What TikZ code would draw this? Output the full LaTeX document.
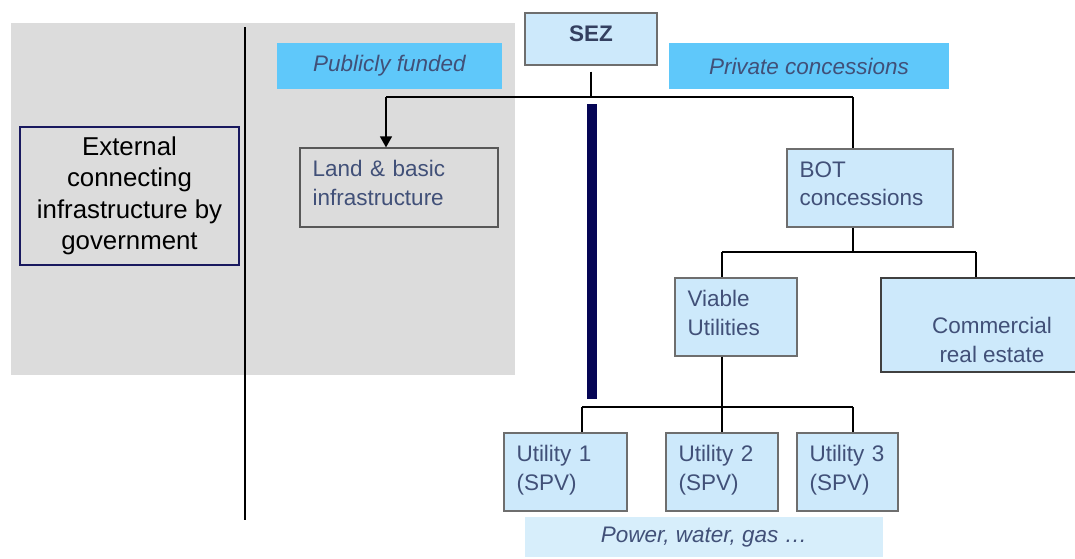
\documentclass[tikz,border=0pt]{standalone}
\usepackage{fontspec}
\setmainfont{Liberation Sans}
\usetikzlibrary{arrows.meta}

\definecolor{bggray}{RGB}{220,220,220}
\definecolor{tagblue}{RGB}{95,200,250}
\definecolor{boxblue}{RGB}{205,233,251}
\definecolor{paleblue}{RGB}{215,238,251}
\definecolor{navybar}{RGB}{5,5,85}
\definecolor{navyedge}{RGB}{25,25,95}
\definecolor{slate}{RGB}{65,80,120}
\definecolor{edgegray}{RGB}{110,110,110}

\newcommand\boxfont{\fontsize{12.8}{16.4}\selectfont}
\newcommand\extfont{\fontsize{14.7}{17.9}\selectfont}

\tikzset{
  unit/.style={rectangle, draw=edgegray, line width=0.7pt, fill=boxblue, text=slate,
    font=\boxfont, align=left, inner xsep=0.25cm, inner ysep=0pt, text depth=0.75cm},
  tag/.style={rectangle, fill=tagblue, text=slate, font=\boxfont\itshape, inner sep=0pt},
  link/.style={draw, line width=0.75pt},
}

\begin{document}
\begin{tikzpicture}[x=0.02cm, y=-0.02cm]
\useasboundingbox (0,0) rectangle (1075,558);
\fill[bggray] (11,23) rectangle (515,375);
\draw[line width=0.6pt] (245,27) -- (245,520);
\fill[navybar] (587,104) rectangle (597,399);

\path (129.5,196) node[rectangle, draw=navyedge, line width=1.1pt, font=\extfont, align=center,
        minimum width=4.38cm, minimum height=2.76cm] (ext) {External\\connecting\\infrastructure by\\government}
      (389.5,66) node[tag, minimum width=4.5cm, minimum height=0.92cm] (pub) {Publicly funded}
      (809,66) node[tag, minimum width=5.6cm, minimum height=0.92cm] (priv) {Private concessions}
      (591,39) node[unit, align=center, font=\boxfont\bfseries, text=slate!80!black, text depth=0.2cm,
        minimum width=2.64cm, minimum height=1.04cm] (sez) {SEZ}
      (399,187.5) node[unit, fill=bggray, draw=edgegray!80!black, text width=3.46cm, minimum height=1.58cm] (land) {Land \& basic\\infrastructure}
      (870,188) node[unit, text width=2.82cm, minimum height=1.56cm] (bot) {BOT\\concessions}
      (736,317) node[unit, text width=1.94cm, minimum height=1.56cm] (via) {Viable\\Utilities}
      (983.5,325) node[unit, draw=black!75, minimum width=4.1cm, minimum height=1.88cm,
        label={[name=comtxt, align=center, font=\boxfont, text=slate, xshift=0.17cm, yshift=-0.3cm]center:Commercial\\real estate}] (com) {}
      (565.5,472) node[unit, text width=1.96cm, minimum height=1.56cm] (u1) {Utility 1\\(SPV)}
      (722,472) node[unit, text width=1.74cm, minimum height=1.56cm] (u2) {Utility 2\\(SPV)}
      (847.5,472) node[unit, text width=1.52cm, minimum height=1.56cm] (u3) {Utility 3\\(SPV)}
      (704,537) node[rectangle, fill=paleblue, text=slate, font=\boxfont\itshape,
        minimum width=7.16cm, minimum height=0.8cm] (power) {Power, water, gas …};

\coordinate (sezj) at (591,97);
\coordinate (landj) at (386,97);
\coordinate (botj) at (853,97);
\coordinate (splitj) at (853,252);
\coordinate (viaj) at (722,252);
\coordinate (comj) at (976,252);
\coordinate (utilj) at (722,407);
\coordinate (u1j) at (582,407);
\coordinate (u3j) at (853,407);

\draw[link] ([yshift=-0.12cm]sez.south) -- (sezj);
\draw[link] (landj) -- (botj);
\draw[link, -{Triangle[width=0.24cm, length=0.22cm]}] (landj) -- (landj |- land.north);
\draw[link] (botj) -- (botj |- bot.north);

\draw[link] (splitj |- bot.south) -- (splitj);
\draw[link] (viaj) -- (comj);
\draw[link] (viaj) -- (viaj |- via.north);
\draw[link] (comj) -- (comj |- com.north);

\draw[link] (utilj |- via.south) -- (utilj);
\draw[link] (u1j) -- (u3j);
\draw[link] (u1j) -- (u1j |- u1.north);
\draw[link] (utilj) -- (utilj |- u2.north);
\draw[link] (u3j) -- (u3j |- u3.north);
\end{tikzpicture}
\end{document}
